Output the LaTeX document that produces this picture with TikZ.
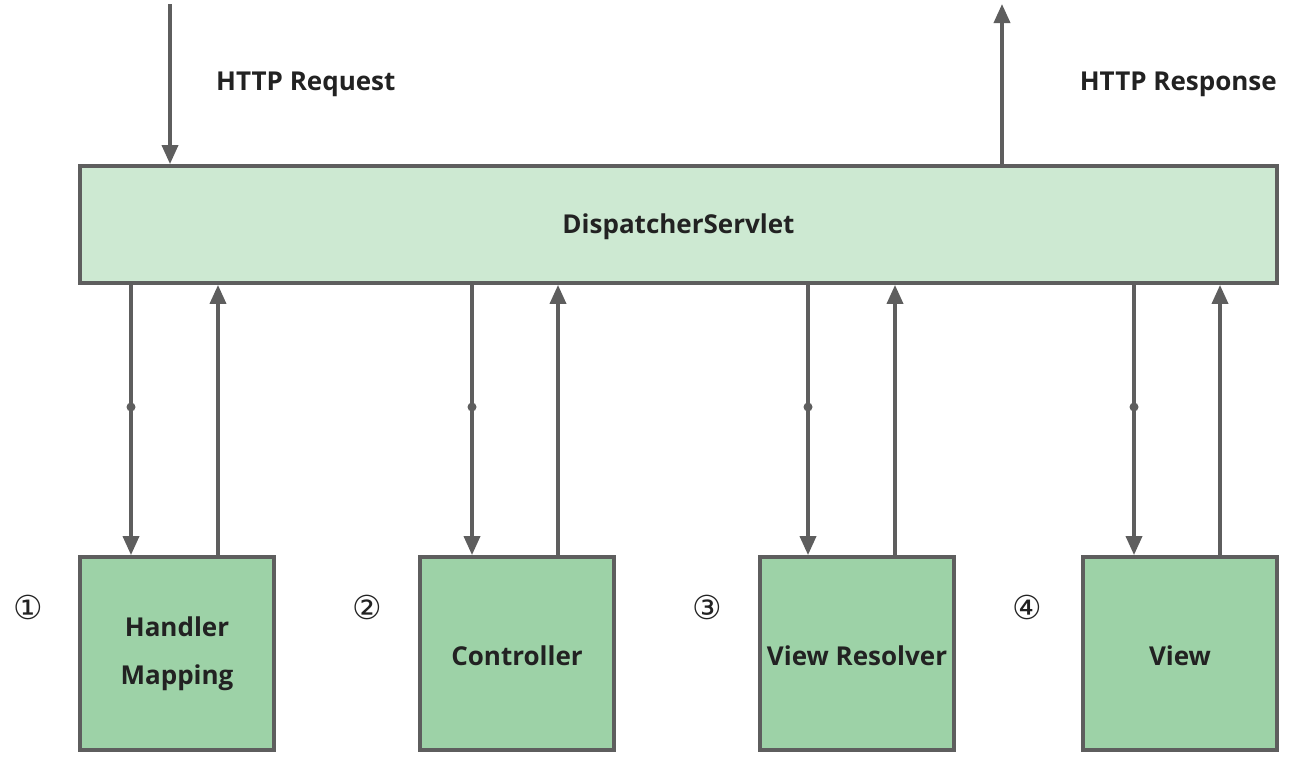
\documentclass[tikz,border=0pt]{standalone}
\usepackage{fontspec}
\setmainfont{Open Sans}
\newfontfamily\symfont{DejaVu Sans}
\usetikzlibrary{arrows.meta}
\definecolor{linegray}{HTML}{5E5E5E}
\definecolor{lightgreen}{HTML}{CDE9D2}
\definecolor{midgreen}{HTML}{9DD2A7}
\definecolor{txt}{HTML}{222222}
\tikzset{
  conn/.style={draw=linegray, line width=3.6pt, -{Triangle[length=19pt,width=16pt]}},
  topbox/.style={draw=linegray, line width=3.8pt, fill=lightgreen, minimum width=1197pt, minimum height=117pt, inner sep=0pt, font=\bfseries\fontsize{26}{29}\selectfont, text=txt, text height=26pt, text depth=8pt},
  compbox/.style={draw=linegray, line width=3.8pt, fill=midgreen, minimum width=194pt, minimum height=193pt, inner sep=0pt, align=center, font=\bfseries\fontsize{26}{48}\selectfont, text=txt},
  onebox/.style={compbox, text height=26pt, text depth=2pt},
  lbl/.style={font=\bfseries\fontsize{26}{29}\selectfont, text=txt, inner sep=0pt},
  num/.style={font=\symfont\fontsize{33}{36}\selectfont, text=txt, inner sep=0pt},
  dotmark/.style={fill=linegray, circle, inner sep=0pt, minimum size=9pt}
}
\begin{document}
\begin{tikzpicture}[x=1pt,y=-1pt]
\useasboundingbox (0,0) rectangle (1297,758);
\node[topbox] (ds) at (678.5,224.5) {DispatcherServlet};
\node[compbox] (hm) at (177,653.5) {Handler\\Mapping};
\node[onebox] (ct) at (517,653.5) {Controller};
\node[onebox] (vr) at (857,653.5) {View Resolver};
\node[onebox] (vw) at (1180,653.5) {View};
\node[lbl, anchor=west] (req) at (216,84) {HTTP Request};
\node[lbl, anchor=east] (resp) at (1277,84) {HTTP Response};
\node[num] (n1) at (28,607) {①};
\node[num] (n2) at (367,607) {②};
\node[num] (n3) at (707,607) {③};
\node[num] (n4) at (1027,607) {④};
\coordinate (reqtop) at (170,4);
\coordinate (resptop) at (1002,4);
\draw[conn] (reqtop) -- (ds.north -| reqtop);
\draw[conn] (ds.north -| resptop) -- (resptop);
\foreach \b/\dx/\ux in {hm/131/218, ct/472/558, vr/808/895, vw/1134/1220}{
  \coordinate (\b-d) at (\dx,0);
  \coordinate (\b-u) at (\ux,0);
  \draw[conn] (ds.south -| \b-d) -- (\b.north -| \b-d);
  \draw[conn] (\b.north -| \b-u) -- (ds.south -| \b-u);
  \node[dotmark] at (\dx,407) {};
}
\end{tikzpicture}
\end{document}
